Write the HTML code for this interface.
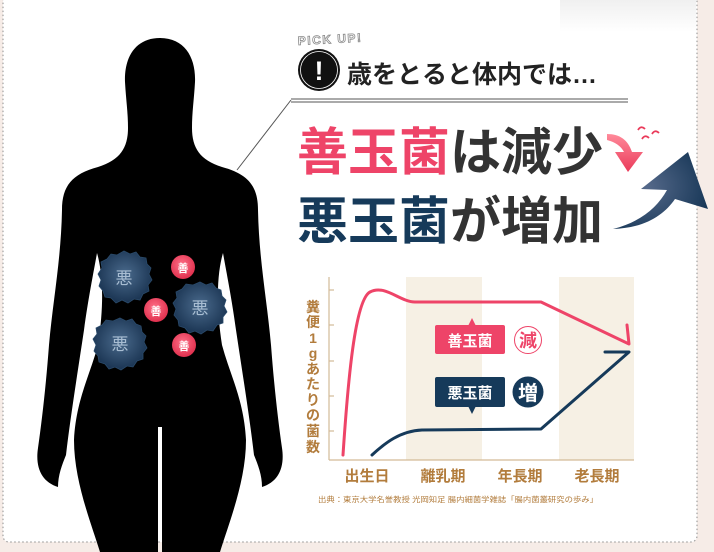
<!DOCTYPE html>
<html><head><meta charset="utf-8"><style>
html,body{margin:0;padding:0;background:#f6ece7;}
svg{display:block;font-family:"Liberation Sans","Noto Sans CJK JP",sans-serif;}
</style></head><body>
<svg width="714" height="552" viewBox="0 0 714 552" xmlns="http://www.w3.org/2000/svg">
<defs>
<radialGradient id="bac" cx="50%" cy="45%" r="55%"><stop offset="0" stop-color="#4a6a8c"/><stop offset="1" stop-color="#1a3452"/></radialGradient>
<radialGradient id="zen" cx="45%" cy="40%" r="60%"><stop offset="0" stop-color="#ff7088"/><stop offset="1" stop-color="#e0304e"/></radialGradient>
<radialGradient id="big" cx="35%" cy="45%" r="70%"><stop offset="0" stop-color="#55698a"/><stop offset="1" stop-color="#163656"/></radialGradient>
<linearGradient id="sm" x1="0" y1="0" x2="0" y2="1"><stop offset="0" stop-color="#ff8a9a"/><stop offset="1" stop-color="#ea3a5a"/></linearGradient>
<linearGradient id="topg" x1="0" y1="0" x2="0" y2="1"><stop offset="0" stop-color="#ececec"/><stop offset="1" stop-color="#ffffff"/></linearGradient>
</defs>
<rect x="3" y="-10" width="694" height="552" rx="6" fill="#fff" stroke="#a0a0a0" stroke-width="1.2" stroke-dasharray="1.5 2.5"/>
<rect x="560" y="0" width="136" height="32" fill="url(#topg)" opacity="0.8"/>

<!-- silhouette -->
<g fill="#000">
<path id="half" d="M160,38 C135,38 124,58 125,82 C126,100 128,112 128,128 C128,148 120,160 98,167 C72,174 62,186 62,210 C61,260 53,300 49,345 C46,385 42,420 38,448 C35,468 42,482 58,487 C58,475 62,465 66,455 C70,420 78,370 84,330 C88,300 94,270 97,253 C102,270 105,300 98,345 C90,375 76,400 74,440 C74,480 90,520 100,552 L158,552 L158,427 L161,427 L161,38 Z"/>
<use href="#half" transform="translate(320,0) scale(-1,1)"/>
</g>

<!-- bacteria -->
<g>
<polygon fill="url(#bac)" stroke="#2a4a6a" stroke-width="0.8" points="124,251 130,254 136,252 140,257 146,258 147,264 151,268 149,274 152,280 148,285 149,291 143,294 140,300 134,299 128,303 122,300 116,303 111,298 105,297 103,291 99,286 101,280 98,274 102,268 101,262 107,259 111,254 117,255"/>
<text x="124" y="284" font-size="17" fill="#a8bdd2" text-anchor="middle">悪</text>
<polygon fill="url(#bac)" stroke="#2a4a6a" stroke-width="0.8" points="200,282 206,285 212,283 216,288 221,290 222,296 226,300 224,306 227,312 223,317 223,323 217,325 213,331 207,330 201,334 195,331 189,333 185,328 179,326 178,320 174,315 176,309 173,303 177,298 176,292 182,289 186,284 193,285"/>
<text x="200" y="314" font-size="17" fill="#a8bdd2" text-anchor="middle">悪</text>
<polygon fill="url(#bac)" stroke="#2a4a6a" stroke-width="0.8" points="120,318 126,321 132,319 136,324 141,326 142,332 146,336 144,342 147,348 143,353 143,359 137,361 133,367 127,366 121,370 115,367 109,369 105,364 99,362 98,356 94,351 96,345 93,339 97,334 96,328 102,325 106,320 113,321"/>
<text x="120" y="350" font-size="17" fill="#a8bdd2" text-anchor="middle">悪</text>
<circle cx="183" cy="267" r="12" fill="url(#zen)"/><text x="183" y="272" font-size="11" fill="#fff" text-anchor="middle" font-weight="bold">善</text>
<circle cx="156" cy="310" r="12" fill="url(#zen)"/><text x="156" y="315" font-size="11" fill="#fff" text-anchor="middle" font-weight="bold">善</text>
<circle cx="184" cy="345" r="12" fill="url(#zen)"/><text x="184" y="350" font-size="11" fill="#fff" text-anchor="middle" font-weight="bold">善</text>
</g>

<!-- header -->
<text x="298" y="45" font-size="12" font-weight="bold" fill="#fff" stroke="#8a8a8a" stroke-width="0.8" letter-spacing="1.5" transform="rotate(-3 298 45)">PICK UP!</text>
<circle cx="319" cy="70" r="21" fill="#111"/>
<circle cx="319" cy="70" r="18.5" fill="none" stroke="#fff" stroke-width="0.8"/>
<text x="319" y="80" font-size="27" font-weight="bold" fill="#fff" text-anchor="middle">!</text>
<text x="347" y="83" font-size="25" font-weight="bold" fill="#222">歳をとると体内では…</text>
<line x1="291" y1="99" x2="628" y2="99" stroke="#555" stroke-width="1"/>
<line x1="291" y1="102" x2="628" y2="102" stroke="#555" stroke-width="1"/>
<line x1="291" y1="100" x2="237" y2="170" stroke="#555" stroke-width="1"/>

<text x="297" y="170" font-size="51" font-weight="bold" fill="#ee4468">善玉菌<tspan fill="#333">は減少</tspan></text>
<text x="297" y="239" font-size="51" font-weight="bold" fill="#163a5a">悪玉菌<tspan fill="#333">が増加</tspan></text>

<!-- small red arrow -->
<path d="M607,134 C620,134 628,140 632,152 L643,152 L628,172 L615,152 L624,152 C621,146 615,142 607,140 Z" fill="url(#sm)"/>
<path d="M638,130 q3,-5 7,-1 M642,139 q3,-5 7,-1 M652,134 q3,-5 7,-1" stroke="#ea3a5a" stroke-width="1.8" fill="none"/>
<!-- big navy arrow -->
<path d="M613,229 C645,228 664,215 675,199 L708,209 L688,152 L641,189 L667,190 C657,208 640,222 613,229 Z" fill="url(#big)"/>

<!-- chart -->
<rect x="406" y="277" width="76" height="183" fill="#f6f0e4"/>
<rect x="559" y="277" width="75" height="183" fill="#f6f0e4"/>
<g stroke="#d3bb98" stroke-width="1.2">
<line x1="329" y1="277" x2="329" y2="460"/>
<line x1="329" y1="460" x2="634" y2="460"/>
<line x1="329" y1="290" x2="334" y2="290"/><line x1="329" y1="325" x2="334" y2="325"/><line x1="329" y1="361" x2="334" y2="361"/><line x1="329" y1="396" x2="334" y2="396"/><line x1="329" y1="431" x2="334" y2="431"/>
</g>
<path d="M343,455 C348,380 355,300 370,292 C385,284 400,302 415,302 L541,302 L629,344 L627,325" fill="none" stroke="#ee4468" stroke-width="3" stroke-linejoin="round" stroke-linecap="round"/>
<path d="M372,455 C385,443 400,431 422,430 L541,429 L629,352 L605,352" fill="none" stroke="#163a5a" stroke-width="3" stroke-linejoin="round" stroke-linecap="round"/>
<rect x="435" y="325" width="70" height="29" rx="2" fill="#ee4468"/>
<polygon points="468,326 472,318 476,326" fill="#ee4468"/>
<text x="470" y="346" font-size="15" font-weight="bold" fill="#fff" text-anchor="middle">善玉菌</text>
<circle cx="528" cy="340" r="13.5" fill="#fff" stroke="#ee4468" stroke-width="1"/>
<text x="528" y="347" font-size="18" font-weight="bold" fill="#ee4468" text-anchor="middle">減</text>
<rect x="435" y="377" width="70" height="30" rx="2" fill="#163a5a"/>
<polygon points="468,406 472,414 476,406" fill="#163a5a"/>
<text x="470" y="398" font-size="15" font-weight="bold" fill="#fff" text-anchor="middle">悪玉菌</text>
<circle cx="528" cy="392" r="15.5" fill="#163a5a"/>
<text x="528" y="400" font-size="20" font-weight="bold" fill="#fff" text-anchor="middle">増</text>
<g font-size="15" fill="#b27c3c" text-anchor="middle" font-weight="bold">
<text x="367" y="481">出生日</text><text x="443" y="481">離乳期</text><text x="520" y="481">年長期</text><text x="597" y="481">老長期</text>
</g>
<g font-size="14" fill="#b27c3c" text-anchor="middle" font-weight="bold">
<text x="313" y="312">糞</text><text x="313" y="327">便</text><text x="313" y="343">1</text><text x="313" y="358">g</text><text x="313" y="374">あ</text><text x="313" y="389">た</text><text x="313" y="405">り</text><text x="313" y="420">の</text><text x="313" y="436">菌</text><text x="313" y="452">数</text>
</g>
<text x="318" y="502" font-size="7.5" fill="#b27c3c" textLength="280" lengthAdjust="spacingAndGlyphs">出典：東京大学名誉教授 光岡知足 腸内細菌学雑誌「腸内菌叢研究の歩み」</text>
</svg>
</body></html>
